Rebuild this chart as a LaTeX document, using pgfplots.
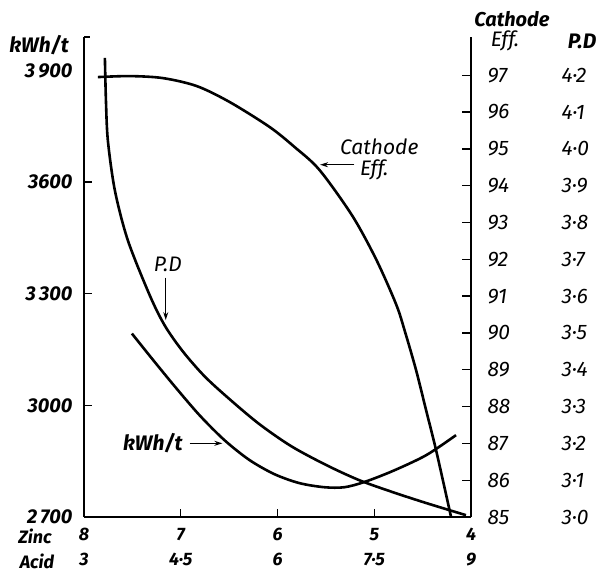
\documentclass[border=0pt]{standalone}
\usepackage{fontspec}
\setmainfont{Fira Sans}
\usepackage{pgfplots}
\usepackage{pgfplotstable}
\pgfplotsset{compat=1.18}
\usetikzlibrary{arrows.meta}

\pgfplotstableread{
zinc pd
7.784 4.247
7.773 4.130
7.753 4.022
7.680 3.886
7.546 3.751
7.320 3.602
7.165 3.520
6.979 3.450
6.753 3.382
6.495 3.320
6.186 3.252
5.856 3.192
5.495 3.141
5.155 3.100
4.814 3.068
4.464 3.038
4.052 3.005
}\pdtable

\pgfplotstableread{
zinc kwh
7.505 3193
7.289 3123
7.062 3051
6.804 2973
6.546 2906
6.289 2853
6.031 2815
5.773 2791
5.515 2780
5.309 2780
5.103 2794
4.814 2823
4.464 2866
4.155 2920
}\kwhtable

\pgfplotstableread{
zinc eff
7.856 96.951
7.526 96.978
7.186 96.924
6.835 96.707
6.495 96.274
6.082 95.596
5.825 95.054
5.567 94.431
5.227 93.184
4.979 91.992
4.773 90.772
4.680 90.014
4.567 88.984
4.464 87.900
4.361 86.816
4.206 85.000
}\efftable

\pgfplotsset{base/.style={
  scale only axis, width=387pt, height=480pt,
  xmin=4, xmax=8, x dir=reverse, clip=false,
  /pgf/number format/assume math mode=true,
  tick align=inside,
  tick style={line width=1.3pt, black},
  axis line style={line width=1.7pt},
}}
\newcommand{\lblfont}{\fontsize{18}{25}\selectfont\bfseries\itshape}
\newcommand{\bfont}{\fontsize{20}{22}\selectfont\bfseries\itshape}
\newcommand{\rfont}{\fontsize{21}{24}\selectfont\itshape}

\begin{document}
\begin{tikzpicture}
% main axis: kWh/t
\begin{axis}[base, name=main,
  ymin=2700, ymax=3990,
  axis x line*=bottom, axis y line*=left,
  xtick={8,7,6,5,4},
  xticklabels={{8\\3},{7\\4·5},{6\\6},{5\\7·5},{4\\9}},
  xticklabel style={align=center, font=\lblfont, yshift=-10pt, inner sep=1pt},
  major tick length=8pt,
  ytick={2700,3000,3300,3600},
  yticklabels={2\,700,3000,3\,300,3600},
  extra y ticks={3900},
  extra y tick labels={3\,900},
  extra y tick style={major tick length=0pt},
  yticklabel style={font=\bfont, xshift=-8pt},
]
\addplot[black, line width=2.6pt, smooth] table[x=zinc, y=kwh] {\kwhtable};
\draw[line width=1.2pt, -{Stealth[length=8pt,width=5pt]}] (axis cs:6.907,2898) -- (axis cs:6.57,2898);
\node[font=\fontsize{21}{22}\selectfont\bfseries\itshape] at (axis cs:7.289,2898) {kWh/t};
\end{axis}

% Cathode efficiency axis
\begin{axis}[base,
  ymin=85, ymax=98.04,
  axis y line*=right, axis x line=none,
  ytick={85,86,...,97},
  major tick length=9pt,
  yticklabel style={font=\rfont, xshift=13pt},
]
\addplot[black, line width=2.6pt, smooth] table[x=zinc, y=eff] {\efftable};
\draw[line width=1.2pt, -{Stealth[length=8pt,width=5pt]}] (axis cs:5.206,94.57) -- (axis cs:5.56,94.57);
\node[font=\rfont] at (axis cs:4.948,95.05) {Cathode};
\node[font=\rfont] at (axis cs:5.0,94.43) {Eff.};
\end{axis}

% P.D axis
\begin{axis}[base,
  ymin=3.0, ymax=4.304,
  axis y line*=right, axis x line=none,
  axis line style={draw=none},
  ytick={3.0,3.1,3.2,3.3,3.4,3.5,3.6,3.7,3.8,3.9,4.0,4.1,4.2},
  yticklabels={3·0,3·1,3·2,3·3,3·4,3·5,3·6,3·7,3·8,3·9,4·0,4·1,4·2},
  major tick length=0pt,
  yticklabel style={font=\rfont, xshift=87pt},
]
\addplot[black, line width=2.6pt, smooth] table[x=zinc, y=pd] {\pdtable};
\draw[line width=1.2pt, -{Stealth[length=8pt,width=5pt]}] (axis cs:7.155,3.650) -- (axis cs:7.155,3.535);
\node[font=\rfont] at (axis cs:7.134,3.685) {P.D};
\end{axis}

% hook at top of left axis
\draw[line width=1.7pt] (main.north west) -- ++(6pt,0);
% headers
\node[font=\fontsize{21}{22}\selectfont\bfseries\itshape] at ([xshift=-45pt,yshift=-8pt]main.north west) {kWh/t};
\node[font=\fontsize{20}{21}\selectfont\bfseries\itshape, inner sep=0.5pt] at ([xshift=41pt,yshift=18pt]main.north east) {Cathode};
\node[font=\rfont, inner sep=0.5pt] at ([xshift=34pt,yshift=-4pt]main.north east) {Eff.};
\node[font=\fontsize{21}{22}\selectfont\bfseries\itshape] at ([xshift=111pt,yshift=-4pt]main.north east) {P.D};
\node[font=\lblfont] at ([xshift=-49pt,yshift=-19pt]main.south west) {Zinc};
\node[font=\lblfont, inner sep=1pt] at ([xshift=-47pt,yshift=-44pt]main.south west) {Acid};

\pgfresetboundingbox
\useasboundingbox ([xshift=-84pt,yshift=-55pt]main.south west) rectangle ([xshift=128pt,yshift=37pt]main.north east);
\end{tikzpicture}
\end{document}
